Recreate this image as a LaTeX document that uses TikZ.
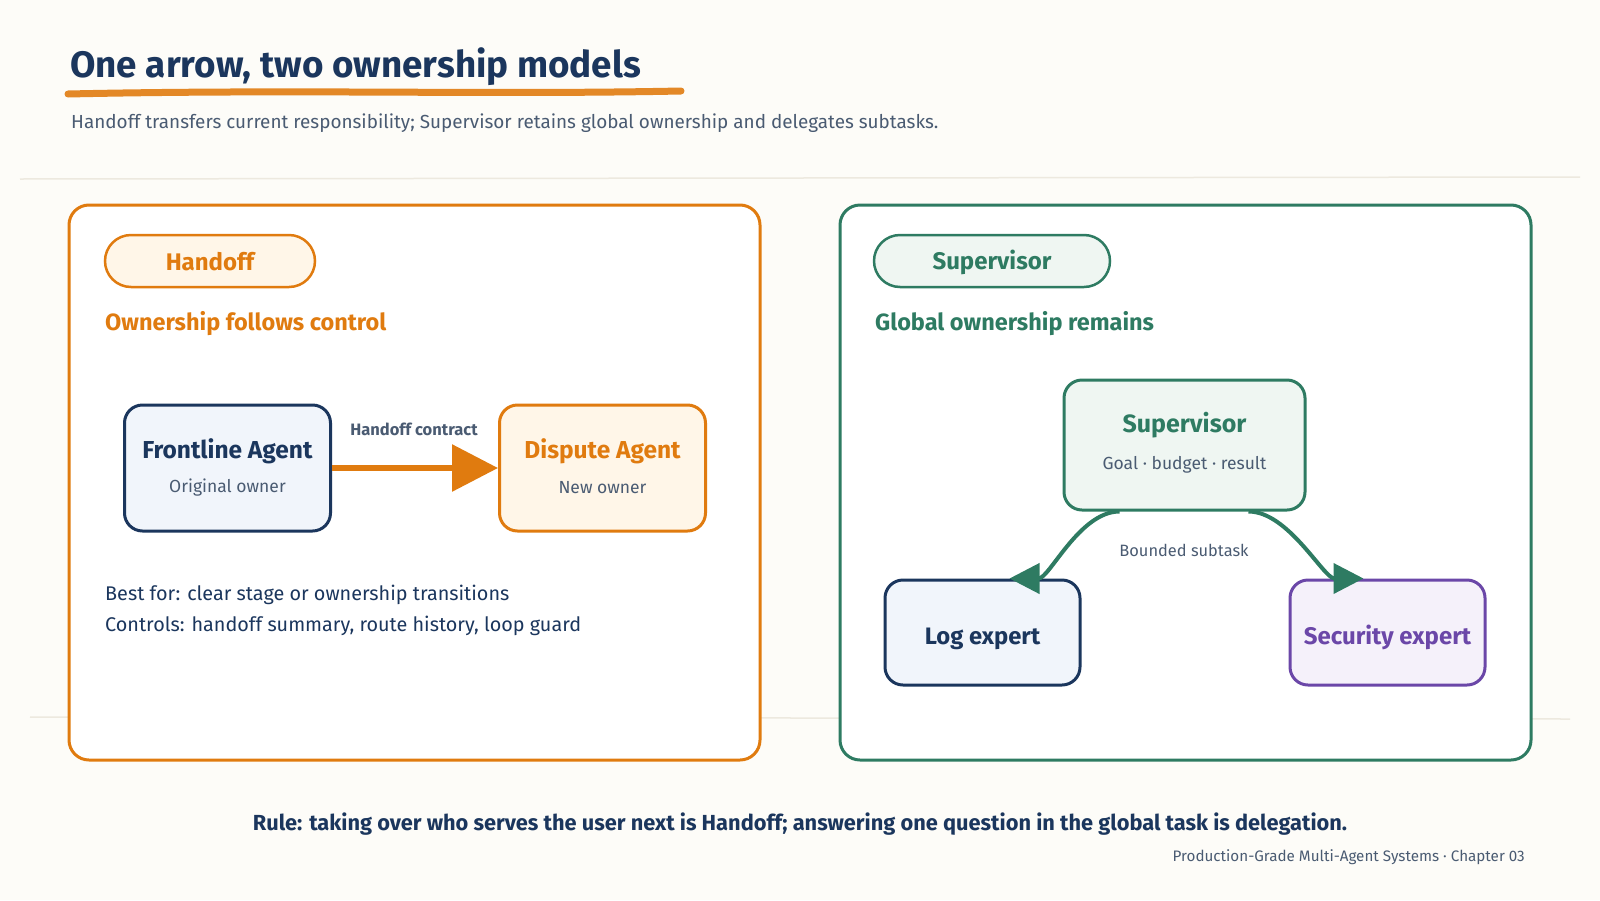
\documentclass[tikz,border=0pt]{standalone}
\usepackage{fontspec}
\setmainfont{Fira Sans}
\usetikzlibrary{arrows.meta,positioning}

\definecolor{bgcream}{HTML}{FDFCF8}
\definecolor{inknavy}{HTML}{1B365D}
\definecolor{inkgrey}{HTML}{4A5B72}
\definecolor{hoorange}{HTML}{E07B0F}
\definecolor{hofill}{HTML}{FFF6E8}
\definecolor{svgreen}{HTML}{2E7B62}
\definecolor{svfill}{HTML}{EFF6F2}
\definecolor{navyfill}{HTML}{F1F5FB}
\definecolor{sepurple}{HTML}{6B47A8}
\definecolor{sefill}{HTML}{F5F1FA}
\definecolor{faintline}{HTML}{EDE9DF}

\newcommand{\fsz}[1]{\fontsize{#1}{#1}\selectfont}

\begin{document}
\begin{tikzpicture}[x=1pt, y=-1pt,
  panel/.style={draw, line width=3pt, rounded corners=20pt, fill=white,
    minimum width=691pt, minimum height=555pt},
  pill/.style={draw, line width=2.5pt, rounded corners=26pt,
    minimum height=52pt},
  pilltext/.style={inner sep=0pt, font=\bfseries\fsz{24}},
  agent/.style={draw, line width=3pt, rounded corners=18pt},
  heading/.style={anchor=west, inner sep=0pt, font=\bfseries\fsz{23.5}},
  note/.style={anchor=west, inner sep=0pt, text=inknavy, font=\fsz{19.8}},
  boxtitle/.style={inner sep=0pt, font=\bfseries\fsz{24.5}},
  boxsub/.style={inner sep=0pt, text=inkgrey, font=\fsz{17.5}},
  edgelabel/.style={inner sep=0pt, text=inkgrey, font=\fsz{16.4}}
]
  % Background and margins
  \fill[bgcream] (0,0) rectangle (1600,900);
  \useasboundingbox (0,0) rectangle (1600,900);

  % Faint separators
  \draw[faintline, line width=1.5pt] (20,179) -- (1580,177);
  \draw[faintline, line width=1.5pt] (30,717) -- (1570,719);

  % Title and underline
  \draw[hoorange!90, line width=7pt, line cap=round]
    (68,94) .. controls (300,89) and (480,95) .. (681,91);
  \node[anchor=west, inner sep=0pt, text=inknavy, font=\bfseries\fsz{36.8}] (title) at (70,67)
    {One arrow, two ownership models};
  \node[anchor=west, inner sep=0pt, text=inkgrey, font=\fsz{18.9}] (subtitle) at (71,123)
    {Handoff transfers current responsibility; Supervisor retains global ownership and delegates subtasks.};

  % Panels
  \node[panel, draw=hoorange] (hopanel) at (414.5,482.5) {};
  \node[panel, draw=svgreen] (svpanel) at (1185.5,482.5) {};

  % Handoff side
  \node[pill, draw=hoorange, fill=hofill, minimum width=210pt] (hopill) at (210,261) {};
  \node[pilltext, text=hoorange] (hopillT) at ([yshift=-1pt]hopill.center) {Handoff};
  \node[heading, text=hoorange] (hohead) at (105,324) {Ownership follows control};

  \node[agent, draw=inknavy, fill=navyfill, minimum width=206pt, minimum height=126pt] (front) at (227.5,468) {};
  \node[boxtitle, text=inknavy] (frontT) at ([yshift=17pt]front.center) {Frontline Agent};
  \node[boxsub] (frontS) at ([yshift=-20pt]front.center) {Original owner};

  \node[agent, draw=hoorange, fill=hofill, minimum width=206pt, minimum height=126pt] (dispute) at (602.5,468) {};
  \node[boxtitle, text=hoorange] (disputeT) at ([yshift=17pt]dispute.center) {Dispute Agent};
  \node[boxsub] (disputeS) at ([yshift=-20pt]dispute.center) {New owner};

  \draw[hoorange, line width=6pt, -{Triangle[length=46pt, width=46pt]}] (front.east) -- (dispute.west);
  \node[edgelabel, font=\bfseries\fsz{16.5}] (hocontract) at (414,429) {Handoff contract};

  \node[note] (bestfor) at (105,595) {Best for: clear stage or ownership transitions};
  \node[note] (controls) at (105,626) {Controls: handoff summary, route history, loop guard};

  % Supervisor side
  \node[pill, draw=svgreen, fill=svfill, minimum width=236pt] (svpill) at (992,261) {};
  \node[pilltext, text=svgreen] (svpillT) at ([yshift=-1pt]svpill.center) {Supervisor};
  \node[heading, text=svgreen] (svhead) at (875,324) {Global ownership remains};

  \node[agent, draw=svgreen, fill=svfill, minimum width=241pt, minimum height=130pt] (sup) at (1184.5,445) {};
  \node[boxtitle, text=svgreen, font=\bfseries\fsz{25}] (supT) at ([yshift=20pt]sup.center) {Supervisor};
  \node[boxsub] (supS) at ([yshift=-20pt]sup.center) {Goal · budget · result};

  \node[agent, draw=inknavy, fill=navyfill, minimum width=195pt, minimum height=105pt] (logx) at (982.5,632.5) {};
  \node[boxtitle, text=inknavy, font=\bfseries\fsz{23.8}] (logT) at ([yshift=-6pt]logx.center) {Log expert};
  \node[agent, draw=sepurple, fill=sefill, minimum width=195pt, minimum height=105pt] (secx) at (1387.5,632.5) {};
  \node[boxtitle, text=sepurple, font=\bfseries\fsz{24}] (secT) at ([yshift=-5pt]secx.center) {Security expert};

  \draw[svgreen, line width=4pt, -{Triangle[length=30pt, width=30pt]}]
    ([xshift=-65pt]sup.south) .. controls +(-40,0) and +(40,0) .. ([xshift=27pt]logx.north);
  \draw[svgreen, line width=4pt, -{Triangle[length=30pt, width=30pt]}]
    ([xshift=64pt]sup.south) .. controls +(40,0) and +(-40,0) .. ([xshift=-24pt]secx.north);
  \node[edgelabel] (subtask) at (1184,550) {Bounded subtask};

  % Footer
  \node[inner sep=0pt, text=inknavy, font=\bfseries\fsz{21.8}] (rule) at (800,824)
    {Rule: taking over who serves the user next is Handoff; answering one question in the global task is delegation.};
  \node[anchor=east, inner sep=0pt, text=inkgrey, font=\fsz{15.2}] (footer) at (1525,857)
    {Production-Grade Multi-Agent Systems · Chapter 03};
\end{tikzpicture}
\end{document}
